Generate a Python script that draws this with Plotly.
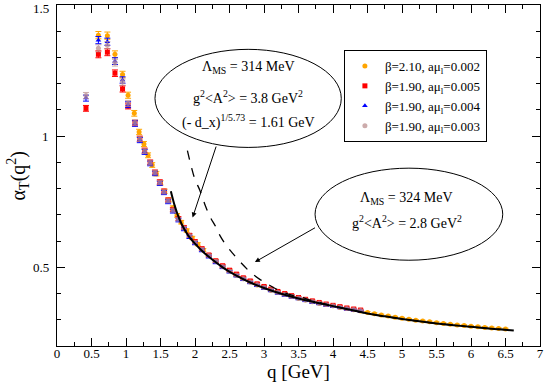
import plotly.graph_objects as go

# lattice momenta (GeV) and alpha_T values
q_190 = [0.42, 0.60, 0.73, 0.84, 0.95, 1.03, 1.13, 1.20, 1.27, 1.35, 1.42, 1.49, 1.55, 1.61,
         1.68, 1.76, 1.84, 1.92, 2.00, 2.10, 2.20, 2.30, 2.40, 2.50, 2.60, 2.70, 2.80, 2.90,
         3.00, 3.10, 3.20, 3.30, 3.40, 3.50, 3.60, 3.70, 3.80, 3.90, 4.00, 4.10, 4.20, 4.30, 4.40]

a_red = [1.106, 1.312, 1.320, 1.240, 1.180, 1.115, 1.050, 0.990, 0.945, 0.900, 0.862, 0.825,
         0.790, 0.756, 0.720, 0.686, 0.652, 0.622, 0.598, 0.571, 0.547, 0.525, 0.506, 0.489,
         0.474, 0.460, 0.448, 0.437, 0.427, 0.417, 0.408, 0.400, 0.392, 0.385, 0.378, 0.372,
         0.366, 0.360, 0.355, 0.350, 0.345, 0.341, 0.337]

a_blue = [1.145, 1.366, 1.360, 1.286, 1.214, 1.120, 1.048, 0.985, 0.940, 0.896, 0.858, 0.820,
          0.785, 0.750, 0.714, 0.680, 0.646, 0.616, 0.592, 0.565, 0.541, 0.519, 0.500, 0.483,
          0.468, 0.454, 0.442, 0.431, 0.421, 0.411, 0.402, 0.394, 0.387, 0.380, 0.373, 0.367,
          0.361, 0.356, 0.351, 0.346, 0.341, 0.337, 0.333]

a_brown = [1.155, 1.335, 1.347, 1.280, 1.206, 1.125, 1.052, 0.990, 0.944, 0.899, 0.861, 0.823,
           0.788, 0.754, 0.718, 0.684, 0.650, 0.620, 0.596, 0.569, 0.545, 0.523, 0.503, 0.486,
           0.471, 0.457, 0.445, 0.434, 0.424, 0.414, 0.405, 0.397, 0.390, 0.383, 0.376, 0.370,
           0.364, 0.358, 0.353, 0.348, 0.343, 0.339, 0.335]

q_210 = [0.60, 0.73, 0.84, 0.95, 1.03, 1.12, 1.19, 1.26, 1.32, 1.38, 1.44, 1.50, 1.56, 1.62,
         1.68, 1.74, 1.80, 1.88, 1.96, 2.04, 2.12, 2.20, 2.30, 2.40, 2.50, 2.60, 2.70, 2.80,
         2.90, 3.00, 3.10, 3.20, 3.30, 3.40, 3.50, 3.60, 3.70, 3.80, 3.90, 4.00, 4.10, 4.20,
         4.30, 4.40, 4.50, 4.60, 4.70, 4.80, 4.90, 5.00, 5.10, 5.20, 5.30, 5.40, 5.50, 5.60,
         5.70, 5.80, 5.90, 6.00, 6.10, 6.20, 6.30, 6.40, 6.50]

a_orange = [1.385, 1.383, 1.312, 1.235, 1.156, 1.087, 1.016, 0.970, 0.927, 0.890, 0.857, 0.822,
            0.790, 0.757, 0.727, 0.698, 0.672, 0.640, 0.612, 0.588, 0.566, 0.545, 0.523, 0.503,
            0.486, 0.470, 0.456, 0.444, 0.433, 0.423, 0.413, 0.404, 0.396, 0.389, 0.382, 0.375,
            0.369, 0.363, 0.358, 0.353, 0.348, 0.343, 0.338, 0.333, 0.328, 0.323, 0.318, 0.314,
            0.310, 0.306, 0.302, 0.298, 0.295, 0.292, 0.289, 0.286, 0.283, 0.280, 0.278, 0.275,
            0.273, 0.271, 0.269, 0.267, 0.265]

# fit curves
q_fit1 = [1.65, 1.70, 1.75, 1.80, 1.90, 2.00, 2.10, 2.20, 2.40, 2.60, 2.80, 3.00, 3.25, 3.50,
          3.75, 4.00, 4.25, 4.50, 4.75, 5.00, 5.25, 5.50, 5.75, 6.00, 6.25, 6.50, 6.62]
a_fit1 = [0.790, 0.740, 0.700, 0.668, 0.622, 0.590, 0.563, 0.540, 0.500, 0.468, 0.442, 0.421,
          0.399, 0.381, 0.366, 0.352, 0.338, 0.324, 0.313, 0.303, 0.294, 0.286, 0.279, 0.273,
          0.267, 0.262, 0.259]

q_fit2 = [1.89, 1.95, 2.00, 2.07, 2.15, 2.22, 2.30, 2.36, 2.45, 2.55, 2.65, 2.80, 2.95, 3.04,
          3.15, 3.28, 3.40, 3.55, 3.70, 4.00, 4.50, 5.00, 5.50, 6.00, 6.62]
a_fit2 = [0.945, 0.880, 0.835, 0.794, 0.735, 0.692, 0.655, 0.622, 0.585, 0.552, 0.522, 0.482,
          0.452, 0.438, 0.421, 0.405, 0.394, 0.385, 0.373, 0.353, 0.324, 0.303, 0.286, 0.273,
          0.259]

y_tickvals = [0.5, 1.0, 1.5]
y_ticktext = ["0.5", "1", "1.5"]

series = [
    ("β=2.10, aμ<sub>l</sub>=0.002", q_210, a_orange, "#FFA500", "circle", 1.0),
    ("β=1.90, aμ<sub>l</sub>=0.005", q_190, a_red, "#FF0000", "square", 1.0),
    ("β=1.90, aμ<sub>l</sub>=0.004", q_190, a_blue, "#0000FF", "triangle-up", 1.0),
    ("β=1.90, aμ<sub>l</sub>=0.003", q_190, a_brown, "#BC8F8F", "circle", 0.75),
]

FONT = "Liberation Serif"

fig = go.Figure()
for name, qx, ay, col, sym, op in series:
    fig.add_trace(go.Scatter(
        x=qx, y=ay, mode="markers", name=name, opacity=op,
        marker=dict(color=col, symbol=sym, size=5, line=dict(width=0)),
        error_y=dict(type="percent", value=1.0, color=col, thickness=1, width=3),
    ))

fig.add_trace(go.Scatter(x=q_fit1, y=a_fit1, mode="lines", showlegend=False,
                         line=dict(color="black", width=2, shape="spline")))
fig.add_trace(go.Scatter(x=q_fit2, y=a_fit2, mode="lines", showlegend=False,
                         line=dict(color="black", width=1.3, dash="dash", shape="spline")))

# ellipses
fig.add_shape(type="circle", xref="x", yref="y", x0=1.42, x1=4.12, y0=0.957, y1=1.331,
              line=dict(color="black", width=1))
fig.add_shape(type="circle", xref="x", yref="y", x0=3.74, x1=6.46, y0=0.527, y1=0.878,
              line=dict(color="black", width=1))

tfont = dict(family=FONT, size=14, color="black")
labels = [
    (2.77, 1.262, "Λ<sub>MS</sub> = 314 MeV"),
    (2.77, 1.148, "g<sup>2</sup>&lt;A<sup>2</sup>&gt; = 3.8 GeV<sup>2</sup>"),
    (2.77, 1.055, "(- d_x)<sup>1/5.73</sup> = 1.61 GeV"),
    (5.07, 0.763, "Λ<sub>MS</sub> = 324 MeV"),
    (5.07, 0.672, "g<sup>2</sup>&lt;A<sup>2</sup>&gt; = 2.8 GeV<sup>2</sup>"),
]
for x, y, t in labels:
    fig.add_annotation(x=x, y=y, text=t, showarrow=False, font=tfont)

# arrows
fig.add_annotation(x=1.965, y=0.690, ax=2.313, ay=0.966, axref="x", ayref="y",
                   xref="x", yref="y", text="", showarrow=True,
                   arrowhead=2, arrowsize=1, arrowwidth=1, arrowcolor="black")
fig.add_annotation(x=2.868, y=0.520, ax=3.761, ay=0.654, axref="x", ayref="y",
                   xref="x", yref="y", text="", showarrow=True,
                   arrowhead=2, arrowsize=1, arrowwidth=1, arrowcolor="black")

# y tick labels and title placed just left of the axis line
for v, t in zip(y_tickvals, y_ticktext):
    fig.add_annotation(x=-0.012, y=v, xref="paper", yref="y", text=t, showarrow=False,
                       xanchor="right", yanchor="middle",
                       yshift=-3 if v == max(y_tickvals) else 0,
                       font=dict(family=FONT, size=13, color="black"))
fig.add_annotation(x=-0.081, y=0.5, xref="paper", yref="paper",
                   text="α<sub>T</sub>(q<sup>2</sup>)", showarrow=False, textangle=-90,
                   xanchor="center", yanchor="middle",
                   font=dict(family=FONT, size=20, color="black"))

axis_common = dict(showline=True, linecolor="black", linewidth=1, mirror="ticks",
                   ticks="inside", ticklen=8, tickcolor="black", showgrid=False,
                   zeroline=False, automargin=False,
                   tickfont=dict(family=FONT, size=13, color="black"))

fig.update_xaxes(range=[0, 7], dtick=0.5, tick0=0, ticklabelstandoff=-5,
                 ticklabeloverflow="allow",
                 minor=dict(ticks="inside", dtick=0.25, ticklen=4, tickcolor="black"),
                 title=dict(text="q [GeV]", font=dict(family=FONT, size=19), standoff=5),
                 **axis_common)
fig.update_yaxes(range=[0.2, 1.5], tickvals=y_tickvals, showticklabels=False,
                 minor=dict(ticks="inside", dtick=0.1, ticklen=4, tickcolor="black"),
                 **axis_common)

fig.update_layout(
    width=545, height=383,
    margin=dict(l=57, r=5, t=5, b=37),
    paper_bgcolor="white", plot_bgcolor="white",
    font=dict(family=FONT, color="black"),
    legend=dict(x=0.594, y=0.868, xanchor="left", yanchor="top",
                bgcolor="white", bordercolor="black", borderwidth=1,
                font=dict(family=FONT, size=13), itemwidth=30, tracegroupgap=0),
)

# drop the browser's default 8px page margin so the figure sits at the top-left corner
fig.write_html("out.html", config={"displayModeBar": False},
               post_script="document.body.style.margin='0px';")
